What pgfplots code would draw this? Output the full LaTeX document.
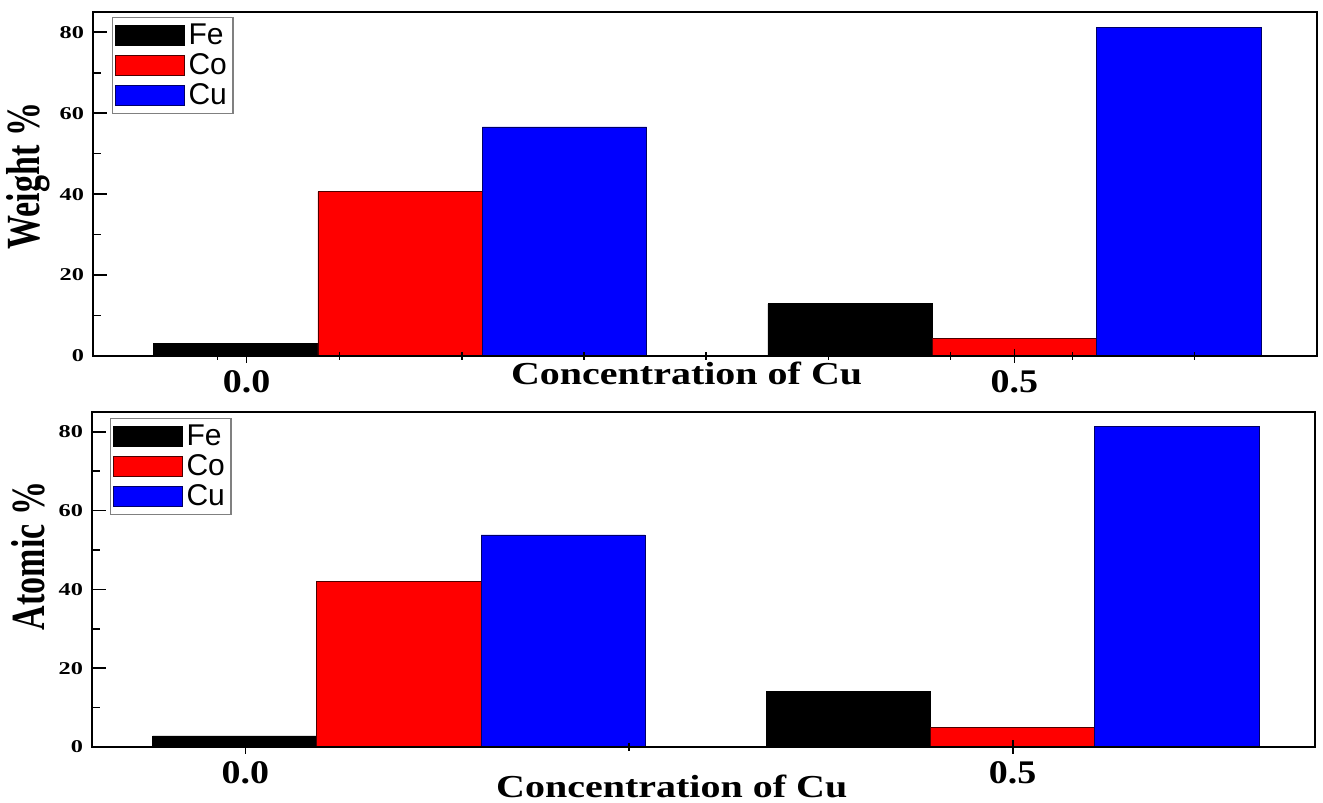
\documentclass[border=0pt]{standalone}
\usepackage{pgfplots}
\pgfplotsset{compat=1.18}
\usepackage{fontspec}
\setmainfont{Liberation Serif}
\newfontfamily\legfont{Liberation Sans}

\definecolor{feblack}{RGB}{0,0,0}
\definecolor{cored}{RGB}{255,0,0}
\definecolor{cublue}{RGB}{0,0,255}

% composition data (x positions of the bars, value in %)
\pgfplotstableread{
x      y
-0.007 3.2
0.393  12.9
}\weightFe
\pgfplotstableread{
x      y
0.100  40.6
0.500  4.3
}\weightCo
\pgfplotstableread{
x      y
0.207  56.6
0.607  81.2
}\weightCu
\pgfplotstableread{
x      y
-0.007 2.8
0.393  14.0
}\atomicFe
\pgfplotstableread{
x      y
0.100  42.0
0.500  5.0
}\atomicCo
\pgfplotstableread{
x      y
0.207  53.8
0.607  81.3
}\atomicCu

\newcommand{\ytl}[1]{\scalebox{1.35}[1]{\fontsize{9}{9}\selectfont\bfseries #1}}
\newcommand{\xtl}[1]{\scalebox{1.15}[1]{\fontsize{16.5}{16.5}\selectfont\bfseries #1}}

\pgfplotsset{
  panel/.style={
    scale only axis,
    xmin=-0.1, xmax=0.697,
    ymin=0, ymax=85,
    axis line style={line width=1.1pt},
    every tick/.style={black, line width=0.8pt},
    xtick pos=bottom, ytick pos=left,
    ytick={0,20,40,60,80},
    yticklabels={\ytl{0},\ytl{20},\ytl{40},\ytl{60},\ytl{80}},
    minor ytick={10,30,50,70},
    ytick align=inside,
    major tick length=7pt,
    minor tick length=4pt,
    xtick align=center,
    xtick={0,0.5},
    xticklabels={\xtl{0.0},\xtl{0.5}},
    xticklabel style={anchor=base, yshift=-15pt},
    yticklabel style={xshift=-1pt},
    axis on top,
    clip=false,
    legend cell align=left,
    legend image code/.code={\draw[##1, line width=0.5pt] (0pt,-5pt) rectangle (34.5pt,5pt);},
    legend style={draw=gray, line width=0.6pt, inner xsep=1pt, inner ysep=1pt,
      row sep=-1pt,
      font=\legfont\fontsize{15}{15}\selectfont, anchor=north west},
  },
  febar/.style={ybar, bar width=0.107, bar shift=0pt, fill=feblack, draw=black, line width=0.4pt},
  cobar/.style={ybar, bar width=0.107, bar shift=0pt, fill=cored, draw=black!70!red, line width=0.4pt},
  cubar/.style={ybar, bar width=0.107, bar shift=0pt, fill=cublue, draw=black!60!blue, line width=0.4pt},
}

\newcommand{\xlab}{\scalebox{1.25}[1]{\fontsize{16}{16}\selectfont\bfseries Concentration of Cu}}

\begin{document}
\begin{tikzpicture}
\path[use as bounding box] (0,0) rectangle (661.5pt,401.5pt);

% upper panel: weight fraction
\begin{axis}[panel,
  at={(46.5pt,223.5pt)}, anchor=south west,
  width=612pt, height=172pt,
  minor xtick={-0.0189,0.0606,0.1402,0.2197,0.2992,0.3788,0.4583,0.5378,0.6173},
  ylabel={\scalebox{1}[1.4]{\fontsize{17}{17}\selectfont\bfseries Weight \%}},
  ylabel style={at={(axis description cs:-0.053,0.523)}, anchor=center},
  xlabel={\xlab},
  xlabel style={at={(axis description cs:0.485,-0.084)}, anchor=base},
  legend style={at={(axis description cs:0.0155,0.9855)}},
]
\addplot[febar] table[x=x,y=y] {\weightFe};
\addplot[cobar] table[x=x,y=y] {\weightCo};
\addplot[cubar] table[x=x,y=y] {\weightCu};
\legend{Fe,Co,Cu}
\end{axis}

% lower panel: atomic fraction
\begin{axis}[panel,
  at={(46pt,28pt)}, anchor=south west,
  width=611.5pt, height=167.5pt,
  minor xtick={0.25},
  ylabel={\scalebox{1}[1.4]{\fontsize{17}{17}\selectfont\bfseries Atomic \%}},
  ylabel style={at={(axis description cs:-0.052,0.570)}, anchor=center},
  xlabel={\xlab},
  xlabel style={at={(axis description cs:0.474,-0.152)}, anchor=base},
  legend style={at={(axis description cs:0.0147,0.982)}},
]
\addplot[febar] table[x=x,y=y] {\atomicFe};
\addplot[cobar] table[x=x,y=y] {\atomicCo};
\addplot[cubar] table[x=x,y=y] {\atomicCu};
\legend{Fe,Co,Cu}
\end{axis}
\end{tikzpicture}
\end{document}
